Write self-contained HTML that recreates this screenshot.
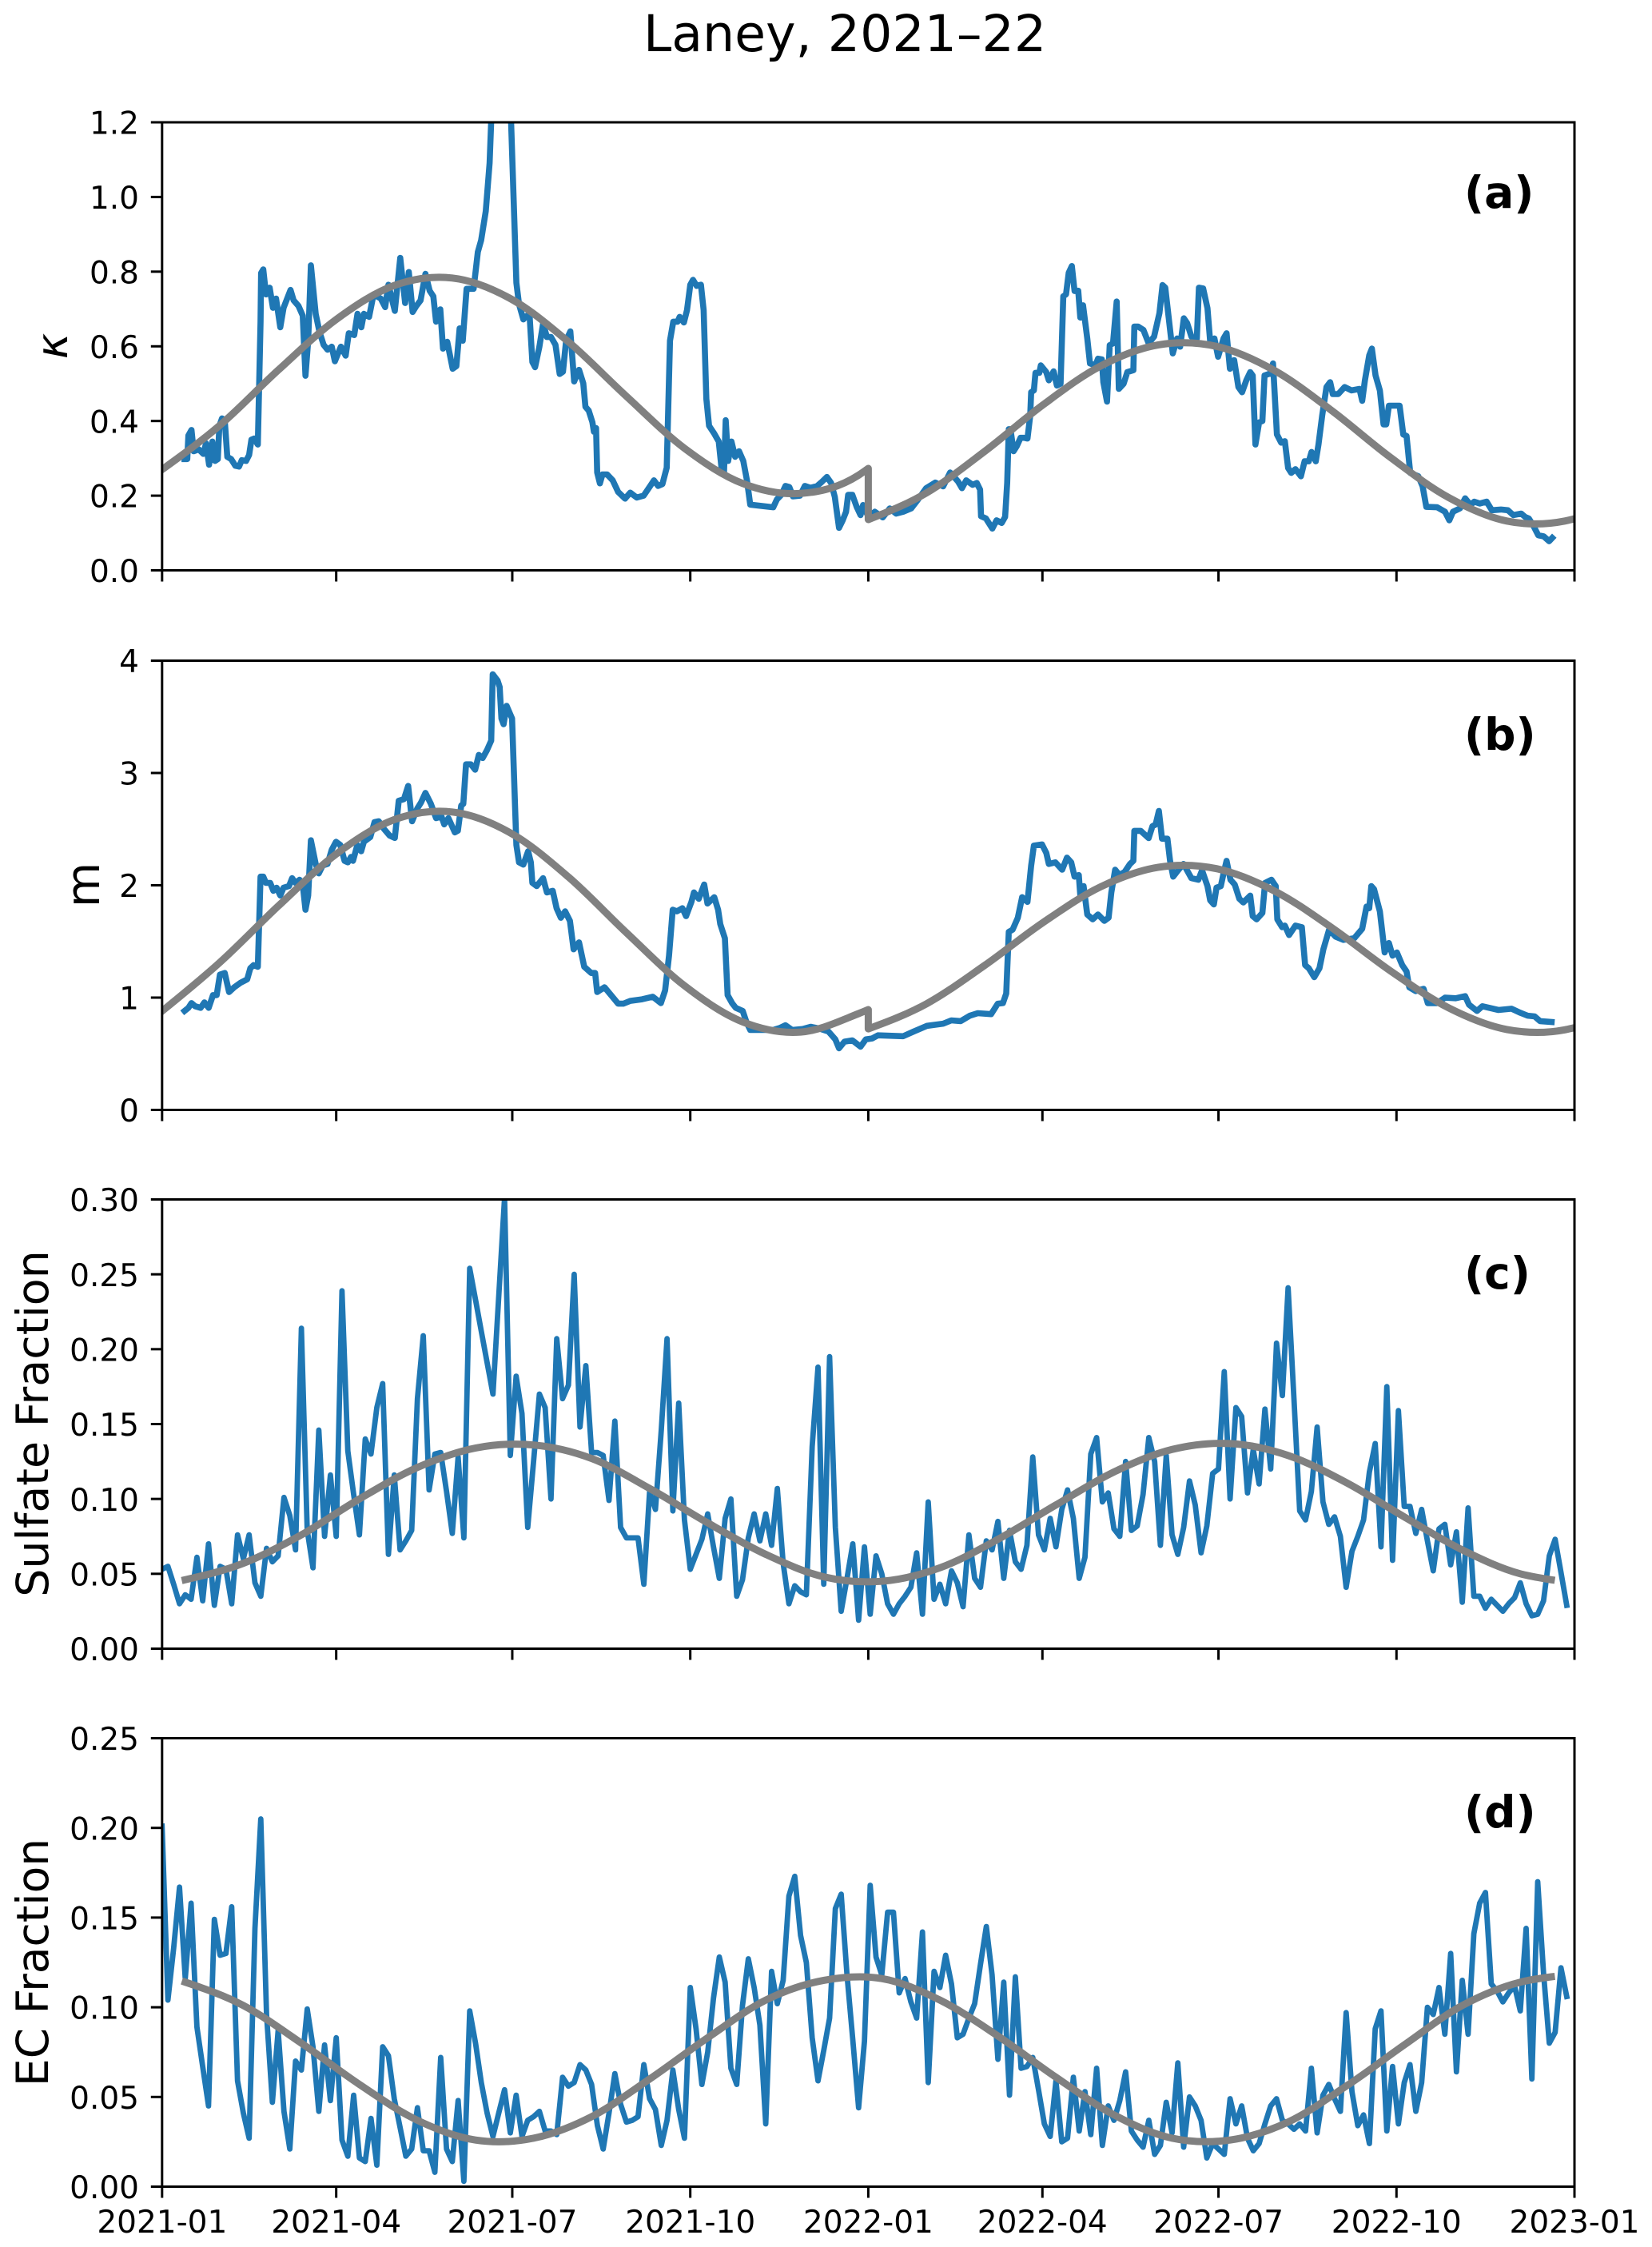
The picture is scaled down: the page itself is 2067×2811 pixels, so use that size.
<!DOCTYPE html>
<html lang="en">
<head>
<meta charset="utf-8">
<title>Laney, 2021–22</title>
<style>
html,body{margin:0;padding:0;background:#fff;}
svg{display:block;}
text{font-family:"DejaVu Sans","Liberation Sans",sans-serif;fill:#000;}
</style>
</head>
<body>
<svg id="figure" xmlns="http://www.w3.org/2000/svg" width="2067" height="2811" viewBox="0 0 2067 2811">
<rect x="0" y="0" width="2067" height="2811" fill="#fff"/>
<text x="805" y="64" font-size="63.3">Laney, 2021–22</text>
<g id="plots"></g>
<text transform="translate(84,433) rotate(-90)" text-anchor="middle" font-size="54.6" font-style="italic">κ</text>
<text transform="translate(124,1107) rotate(-90)" text-anchor="middle" font-size="58">m</text>
<text transform="translate(60,1781) rotate(-90)" text-anchor="middle" font-size="55.4">Sulfate Fraction</text>
<text transform="translate(60,2455) rotate(-90)" text-anchor="middle" font-size="55">EC Fraction</text>
<text x="1832" y="260" font-size="55" font-weight="bold">(a)</text>
<text x="1832" y="938" font-size="55" font-weight="bold">(b)</text>
<text x="1832" y="1612" font-size="55" font-weight="bold">(c)</text>
<text x="1832" y="2286" font-size="55" font-weight="bold">(d)</text>
</svg>
<script>
var xTickLabels = ['2021-01','2021-04','2021-07','2021-10','2022-01','2022-04','2022-07','2022-10','2023-01'];

var kappaTicks = ['0.0','0.2','0.4','0.6','0.8','1.0','1.2'];
var mTicks = ['0','1','2','3','4'];
var sulfateTicks = ['0.00','0.05','0.10','0.15','0.20','0.25','0.30'];
var ecTicks = ['0.00','0.05','0.10','0.15','0.20','0.25'];

var kappaDays = [
11.6,13,13.6,15.2,16.3,19,21.3,22.7,24.3,26,
27.4,28.8,29.6,31,32.4,33.7,35.7,37.9,39.8,41.2,
43.4,45,46.2,47.6,49.5,50.9,51.2,52.3,53.7,55.6,
57.3,58.9,61.1,62.8,66.4,68,70.5,72.7,74.1,75.5,
76.9,79.4,81.3,83.5,85.5,87.7,89.3,92.4,94.9,96.5,
99.3,101,103,104.3,107,109.3,113,115.3,117,120.3,
123.1,125.6,127.5,129.5,131.4,133.6,136.1,138.3,140.2,141.6,
143.8,145.2,147.4,150.2,152.1,153.8,155.4,157.4,161,163.2,
164.9,167.3,169.3,170.9,175,180.4,183.1,184.5,186.7,188.6,
190,191.4,192.8,195,196.9,198.9,201,203.3,205.5,207.2,
208.8,211,213,215.5,217.7,218.8,220.5,222.4,223.2,224.3,
224.9,226.3,227.6,230,232.9,235.7,239.3,242,245.3,248.9,
252.3,254.2,256.4,258.6,260.8,262.5,264.2,266.4,267.5,269.7,
271.3,273,274.4,276.3,278.5,279.9,281.3,282.7,285.4,287.7,
289.3,290.4,291.3,292.6,294.3,296.2,298.2,300.4,302.3,304,
315.9,317.8,320,322.2,324.2,326.1,329.7,332.2,335.2,338.6,
340.8,343.6,345.8,347.7,349.9,351.8,353.5,354.6,356.8,359,
361,362.3,365.1,368.4,372.5,376.1,379.4,383,387.2,390.5,
394.9,399.6,403.7,407.3,411.4,413.4,415.6,418.9,421.1,422.8,
423.3,425.8,429.1,431.3,434,435.7,436.8,437.6,438.5,440.1,
441.8,443.7,445.5,447.3,448.7,449.2,450.6,451.4,453.4,454.2,
457,458.3,460.8,462.5,464.4,465.8,467.2,468.6,470.2,471.6,
473.5,474.6,476,478.2,479.6,482.4,483.7,485.7,486.5,488.4,
489.8,491.5,493.4,494.5,497,498.9,502,502.5,504.4,507.2,
509.9,512.7,515.5,517.1,518.5,520.1,522.4,524.6,526.2,528.1,
529.8,532,534.8,535.9,538.1,540.3,541.7,543.9,545.8,548.6,
550.2,551.9,554.1,556.3,558.2,560.4,562.4,563.7,565.1,567,
568.7,569.8,572.6,574.2,576.2,578.4,580.3,582,583.6,585.8,
588.6,590.5,592.7,594.1,596.3,597.7,599.6,601.8,603.7,605.1,
607.9,611.2,614.8,618.9,620.3,621.7,623.9,625.3,627.2,629.4,
631.3,632.7,634.1,639.6,641.5,643.2,645.1,649.3,651.5,653.4,
659,663.1,665.3,667.2,670.8,673.5,676.3,678.2,681,684.6,
687.3,692,695.6,698.4,702.5,704.5,706.4,708.6,711.3,714.1,
716.9,718.5];

var kappaValues = [
.298,.298,.361,.376,.319,.324,.312,.340,.283,.345,
.293,.298,.387,.407,.402,.304,.298,.280,.278,.295,
.293,.309,.350,.353,.337,.666,.796,.806,.739,.757,
.703,.728,.651,.703,.751,.723,.708,.682,.521,.615,
.817,.687,.640,.604,.591,.599,.560,.599,.575,.635,
.630,.687,.651,.687,.679,.739,.728,.705,.765,.695,
.837,.716,.799,.692,.708,.723,.794,.749,.734,.666,
.699,.594,.612,.540,.547,.648,.615,.754,.754,.853,
.884,.962,1.091,1.31,2.2,1.2,.77,.713,.672,.682,
.677,.558,.544,.599,.661,.625,.625,.604,.526,.532,
.615,.640,.506,.537,.501,.438,.428,.397,.371,.381,
.262,.233,.257,.257,.241,.210,.192,.208,.195,.200,
.226,.241,.226,.231,.275,.615,.666,.666,.679,.664,
.697,.765,.778,.762,.765,.697,.459,.387,.366,.345,
.267,.257,.402,.293,.345,.304,.319,.293,.241,.176,
.169,.190,.202,.226,.223,.198,.200,.226,.221,.226,
.236,.250,.234,.197,.114,.134,.157,.202,.202,.170,
.148,.175,.143,.157,.142,.166,.152,.157,.166,.188,
.220,.235,.225,.262,.238,.220,.241,.229,.234,.216,
.145,.139,.112,.134,.127,.143,.234,.378,.378,.319,
.333,.355,.355,.353,.414,.477,.482,.529,.529,.549,
.531,.509,.533,.495,.500,.734,.739,.797,.815,.748,
.749,.677,.710,.621,.554,.549,.567,.565,.504,.452,
.603,.608,.720,.486,.500,.531,.536,.653,.653,.644,
.608,.626,.689,.764,.757,.684,.581,.621,.599,.675,
.662,.626,.621,.757,.755,.702,.612,.621,.572,.621,
.635,.540,.563,.491,.477,.509,.531,.522,.337,.396,
.400,.522,.527,.554,.364,.342,.346,.274,.261,.271,
.252,.292,.292,.317,.292,.337,.414,.491,.504,.472,
.472,.491,.482,.486,.454,.509,.576,.594,.522,.482,
.391,.391,.441,.441,.364,.360,.261,.252,.225,.170,
.169,.157,.134,.157,.166,.193,.175,.184,.179,.184,
.161,.163,.161,.148,.152,.143,.139,.121,.094,.091,
.078,.087];

var mDays = [
11.6,13.6,15.2,17.1,19.9,21.9,24.1,26.3,28.2,29.9,
32.4,34.6,37.3,40.7,44,45.6,47.3,49.5,50.9,52.3,
53.7,55.9,57.5,59.2,61.1,62.8,65.6,67.2,68.9,71.1,
72.7,74.1,75.5,76.9,79.4,81,83,85.5,87.7,89.9,
92.1,94.3,96,97.6,98.7,100.9,102.9,104.3,107.6,109.8,
112,114.8,117.6,120.3,122.3,125,127.2,129.2,131.9,133.9,
136.1,138.9,141.6,144.4,145.8,148,151.3,152.9,154.6,155.7,
157.1,159.6,161.8,163.7,165.7,167.9,170.1,170.9,173.4,174.5,
175.4,176.5,178.1,180.9,183.1,184.5,186.7,189.2,190.6,191.4,
193.6,196.9,198.9,201.9,203.9,206.1,208.3,210.8,212.7,215.5,
218.2,221.8,223.8,224.9,228.7,235.7,238.4,242,248.1,253.6,
257.8,260,262,263.9,266.1,268.9,270.8,273.6,274.9,277.4,
280.2,281.9,285.4,287.4,288.5,290.9,292.3,294.6,296.5,300.1,
302,304,315.9,319.5,322.2,325.6,331.1,335.2,339.4,344.4,
348,349.9,352.7,356.8,361,363.7,367,370,383,388.5,
395.4,403.7,407.9,412.8,417.5,421.6,428.5,431.9,434.6,436.3,
437.6,439.6,442.3,444.5,447.3,449.2,450.6,454.8,457,458.3,
461.7,465.2,467.7,469.9,471.6,473.8,474.6,476.3,478.2,481,
483.7,487,489.2,490.6,492.6,494.8,497.5,500.3,502,502.5,
505.8,509.9,511.9,513.5,515.2,516.8,519.6,521,522.6,525.1,
527.9,532,535.6,537.5,540.3,541.7,543.6,545,547.2,548.6,
550.2,552.2,554.4,556.8,558.8,562.4,563.7,565.7,568.7,570.1,
573.4,575.6,576.4,578.9,580.3,582.5,585.8,589.1,590.8,592.7,
595.5,598.2,600.2,603.2,606.5,610.6,616.2,620.3,622.5,623.9,
625,626.4,629.4,631.9,634.1,636,638.2,641,643.2,644.6,
647.9,652,654.2,658.9,663.1,668.6,673.5,675.5,679.6,682.4,
690.7,697.5,701.7,705.8,709.4,712.2,718.2];

var mValues = [
.881,.909,.951,.923,.909,.957,.909,1.022,1.022,1.205,
1.219,1.05,1.092,1.134,1.163,1.261,1.289,1.275,2.077,2.077,
2.021,2.021,1.951,1.979,1.909,1.979,1.993,2.063,2.021,2.049,
2.007,1.782,1.909,2.401,2.19,2.106,2.176,2.19,2.317,2.387,
2.359,2.218,2.204,2.252,2.218,2.359,2.303,2.387,2.429,2.562,
2.57,2.5,2.443,2.421,2.753,2.767,2.885,2.57,2.683,2.739,
2.823,2.725,2.598,2.612,2.542,2.598,2.471,2.486,2.711,2.725,
3.077,3.077,3.029,3.161,3.133,3.203,3.288,3.879,3.823,3.766,
3.485,3.434,3.598,3.485,2.359,2.204,2.184,2.303,2.204,2.021,
1.993,2.063,1.937,1.951,1.796,1.711,1.768,1.683,1.43,1.492,
1.275,1.219,1.219,1.05,1.092,.946,.946,.971,.985,1.008,
.951,1.064,1.374,1.782,1.768,1.796,1.725,1.852,1.937,1.88,
2.007,1.838,1.894,1.782,1.655,1.528,1.022,.951,.909,.881,
.783,.712,.712,.732,.754,.712,.72,.74,.726,.698,
.628,.549,.608,.619,.563,.628,.636,.664,.656,.698,
.749,.768,.797,.791,.839,.861,.853,.946,.951,1.036,
1.585,1.605,1.711,1.894,1.852,2.176,2.353,2.364,2.289,2.19,
2.204,2.139,2.246,2.204,2.077,2.091,1.908,1.993,1.74,1.697,
1.74,1.683,1.711,1.936,2.139,2.091,2.119,2.19,2.218,2.485,
2.485,2.42,2.527,2.54,2.662,2.415,2.415,2.218,2.077,2.133,
2.19,2.063,2.049,2.133,1.993,1.866,1.83,1.979,1.993,2.105,
2.218,2.049,2.007,1.88,1.847,1.908,1.725,1.697,1.754,2.021,
2.049,1.993,1.697,1.627,1.641,1.557,1.641,1.627,1.289,1.261,
1.182,1.261,1.43,1.605,1.543,1.514,1.529,1.613,1.81,1.796,
1.993,1.965,1.768,1.402,1.486,1.374,1.402,1.289,1.233,1.092,
1.058,1.078,.951,.951,.999,.994,1.013,.937,.881,.923,
.89,.901,.867,.839,.833,.791,.783];

var sampleIntervalDays = 3;

var sulfateValues = [
.053,.055,.043,.030,.036,.033,.061,.032,.070,.029,
.055,.053,.030,.076,.060,.076,.044,.035,.067,.058,
.062,.101,.089,.066,.214,.079,.054,.146,.075,.116,
.075,.239,.132,.103,.076,.140,.130,.161,.177,.063,
.116,.066,.072,.079,.167,.209,.106,.130,.131,.105,
.077,.128,.074,.254,.233,.212,.191,.170,.235,.301,
.129,.182,.157,.081,.125,.170,.161,.100,.207,.167,
.176,.250,.148,.189,.131,.131,.129,.099,.152,.081,
.074,.074,.074,.043,.105,.093,.146,.207,.092,.164,
.086,.053,.063,.073,.090,.068,.047,.087,.100,.035,
.046,.074,.090,.072,.090,.069,.107,.057,.030,.042,
.038,.036,.135,.188,.043,.195,.081,.025,.047,.070,
.019,.068,.023,.062,.050,.030,.023,.030,.035,.041,
.064,.023,.098,.033,.043,.030,.052,.044,.028,.076,
.047,.041,.072,.066,.085,.047,.079,.058,.053,.069,
.128,.076,.066,.087,.068,.093,.106,.087,.047,.061,
.130,.141,.098,.104,.080,.075,.125,.079,.082,.103,
.141,.125,.069,.129,.076,.063,.081,.112,.096,.064,
.082,.117,.120,.185,.100,.161,.155,.104,.133,.110,
.160,.120,.204,.169,.241,.167,.092,.086,.105,.148,
.098,.083,.088,.075,.041,.065,.075,.086,.118,.137,
.068,.175,.059,.159,.095,.095,.077,.093,.072,.052,
.080,.083,.056,.078,.031,.094,.035,.035,.027,.033,
.029,.025,.030,.034,.044,.030,.022,.023,.032,.062,
.073,.051,.029];

var ecValues = [
.201,.104,.133,.167,.116,.158,.089,.067,.045,.149,
.129,.130,.156,.059,.041,.027,.144,.205,.096,.047,
.087,.042,.021,.070,.065,.099,.078,.042,.079,.048,
.083,.026,.017,.051,.016,.014,.038,.012,.078,.073,
.049,.033,.017,.021,.044,.020,.020,.008,.072,.021,
.014,.048,.003,.098,.080,.058,.041,.028,.041,.054,
.030,.051,.028,.037,.039,.042,.031,.031,.029,.061,
.056,.058,.068,.065,.057,.034,.021,.041,.063,.046,
.036,.037,.039,.068,.049,.043,.023,.037,.065,.043,
.027,.111,.088,.057,.075,.105,.128,.114,.066,.057,
.101,.127,.111,.090,.035,.120,.102,.115,.162,.173,
.140,.125,.083,.059,.076,.094,.155,.163,.118,.082,
.044,.081,.168,.128,.118,.153,.153,.108,.116,.103,
.094,.142,.058,.120,.111,.129,.113,.083,.085,.094,
.102,.124,.145,.118,.071,.114,.051,.117,.066,.067,
.072,.054,.035,.028,.059,.025,.027,.061,.031,.053,
.029,.066,.023,.045,.037,.048,.064,.031,.026,.022,
.037,.018,.023,.047,.030,.069,.022,.050,.045,.037,
.016,.024,.021,.018,.049,.035,.045,.027,.020,.024,
.035,.045,.049,.037,.035,.032,.035,.031,.066,.030,
.051,.057,.049,.042,.097,.053,.034,.040,.024,.088,
.098,.031,.067,.035,.058,.068,.042,.058,.100,.096,
.111,.085,.130,.064,.115,.085,.141,.158,.164,.113,
.109,.103,.108,.112,.098,.144,.060,.170,.119,.080,
.086,.122,.106];

var kappaFitDays2021 = [0,30,60,90,120,150,180,210,240,270,300,330,360,365];
var kappaFit2021 = [.270,.389,.536,.672,.763,.783,.728,.612,.466,.327,.233,.206,.255,.273];
var kappaFitDays2022 = [365,395,425,455,485,515,545,575,605,635,665,695,725,730];
var kappaFit2022 = [.136,.207,.318,.442,.547,.604,.600,.535,.426,.302,.195,.132,.132,.138];

var mFitDays2021 = [0,30,60,90,120,150,180,210,240,270,300,330,360,365];
var mFit2021 = [.88,1.315,1.814,2.278,2.584,2.653,2.467,2.074,1.578,1.106,.784,.693,.858,.893];
var mFitDays2022 = [365,395,425,455,485,515,545,575,605,635,665,695,725,730];
var mFit2022 = [.722,.944,1.285,1.665,1.986,2.161,2.148,1.949,1.617,1.236,.908,.716,.713,.732];

var fractionFitDays = [12,42,72,102,132,162,192,222,252,282,312,342,372,402,432,462,492,522,552,582,612,642,672,702,718];
var sulfateFit = [.046,.057,.076,.100,.121,.134,.136,.127,.107,.084,.063,.048,.045,.054,.073,.096,.118,.133,.137,.129,.111,.088,.066,.050,.046];
var ecFit = [.114,.101,.080,.057,.037,.026,.027,.039,.060,.083,.104,.115,.116,.104,.084,.061,.040,.027,.026,.036,.056,.079,.101,.114,.117];

var SVGNS = 'http://www.w3.org/2000/svg';
var plotLeft = 202.8, plotRight = 1970, spanDays = 730;
var plots = document.getElementById('plots');

function xScale(day) {
  return plotLeft + day * (plotRight - plotLeft) / spanDays;
}
function makeYScale(top, bottom, maxValue) {
  return function (v) { return bottom - v / maxValue * (bottom - top); };
}
function dayOfLabel(label) {
  var parts = label.split('-');
  return (Date.UTC(+parts[0], +parts[1] - 1, 1) - Date.UTC(2021, 0, 1)) / 86400000;
}
function svgEl(tag, parent) {
  var el = document.createElementNS(SVGNS, tag);
  parent.appendChild(el);
  return el;
}
function polyPath(days, values, y) {
  var d = '';
  for (var i = 0; i < days.length && i < values.length; i++) {
    d += (i ? 'L' : 'M') + xScale(days[i]).toFixed(1) + ' ' + y(values[i]).toFixed(1);
  }
  return d;
}
function smoothPath(days, values, y, connect) {
  var px = days.map(xScale);
  var py = values.map(y);
  var n = px.length;
  var h = [], s = [], m = [], i;
  for (i = 0; i < n - 1; i++) {
    h.push(px[i + 1] - px[i]);
    s.push((py[i + 1] - py[i]) / h[i]);
  }
  for (i = 1; i < n - 1; i++) {
    m[i] = (h[i] * s[i - 1] + h[i - 1] * s[i]) / (h[i - 1] + h[i]);
  }
  m[0] = (3 * s[0] - m[1]) / 2;
  m[n - 1] = (3 * s[n - 2] - m[n - 2]) / 2;
  var d = (connect ? 'L' : 'M') + px[0].toFixed(1) + ' ' + py[0].toFixed(1);
  for (i = 0; i < n - 1; i++) {
    d += 'C' + (px[i] + h[i] / 3).toFixed(1) + ' ' + (py[i] + m[i] * h[i] / 3).toFixed(1) + ' ' +
         (px[i + 1] - h[i] / 3).toFixed(1) + ' ' + (py[i + 1] - m[i + 1] * h[i] / 3).toFixed(1) + ' ' +
         px[i + 1].toFixed(1) + ' ' + py[i + 1].toFixed(1);
  }
  return d;
}
function sampleDays(values) {
  return values.map(function (_, i) { return i * sampleIntervalDays; });
}
function drawSeries(group, d, width) {
  var p = svgEl('path', group);
  
  
  p.setAttribute('d', d);
  p.setAttribute('fill', 'none');
  p.setAttribute('stroke', '#1f77b4');
  p.setAttribute('stroke-width', width);
  p.setAttribute('stroke-linejoin', 'round');
  p.setAttribute('stroke-linecap', 'square');
}
function drawFit(group, d) {
  var p = svgEl('path', group);
  
  
  p.setAttribute('d', d);
  p.setAttribute('fill', 'none');
  p.setAttribute('stroke', '#808080');
  p.setAttribute('stroke-width', '9');
  p.setAttribute('stroke-linejoin', 'round');
  p.setAttribute('stroke-linecap', 'square');
}
function tickLine(group, x1, y1, x2, y2) {
  var t = svgEl('line', group);
  
  
  t.setAttribute('x1', x1);
  t.setAttribute('y1', y1);
  t.setAttribute('x2', x2);
  t.setAttribute('y2', y2);
  t.setAttribute('stroke', '#000');
  t.setAttribute('stroke-width', '3');
}

function drawPanel(idx, top, bottom, maxValue, yTicks, showXLabels, series, fits, lineWidth) {
  var y = makeYScale(top, bottom, maxValue);
  var g = svgEl('g', plots);
  
  

  var defs = svgEl('defs', g);
  var clip = svgEl('clipPath', defs);
  clip.setAttribute('id', 'clip' + idx);
  var cr = svgEl('rect', clip);
  cr.setAttribute('x', plotLeft);
  cr.setAttribute('y', top);
  cr.setAttribute('width', plotRight - plotLeft);
  cr.setAttribute('height', bottom - top);

  var marks = svgEl('g', g);
  
  
  marks.setAttribute('clip-path', 'url(#clip' + idx + ')');
  drawSeries(marks, polyPath(series[0], series[1], y), lineWidth);
  var fitPath = '';
  fits.forEach(function (f, k) { fitPath += smoothPath(f[0], f[1], y, k > 0); });
  drawFit(marks, fitPath);

  yTicks.forEach(function (label) {
    var py = y(parseFloat(label));
    tickLine(g, 188.8, py, plotLeft, py);
    var t = svgEl('text', g);
    
    
    t.setAttribute('x', 174);
    t.setAttribute('y', py + 14.6);
    t.setAttribute('text-anchor', 'end');
    t.setAttribute('font-size', '39');
    t.textContent = label;
  });

  xTickLabels.forEach(function (label) {
    var px = xScale(dayOfLabel(label));
    tickLine(g, px, bottom, px, bottom + 14);
    if (showXLabels) {
      var t = svgEl('text', g);
      
      
      t.setAttribute('x', px);
      t.setAttribute('y', 2793);
      t.setAttribute('text-anchor', 'middle');
      t.setAttribute('font-size', '39');
      t.textContent = label;
    }
  });

  var frame = svgEl('rect', g);
  
  
  frame.setAttribute('x', plotLeft);
  frame.setAttribute('y', top);
  frame.setAttribute('width', plotRight - plotLeft);
  frame.setAttribute('height', bottom - top);
  frame.setAttribute('fill', 'none');
  frame.setAttribute('stroke', '#000');
  frame.setAttribute('stroke-width', '3');
}

drawPanel(0, 153, 713.5, 1.2, kappaTicks, false, [kappaDays, kappaValues],
  [[kappaFitDays2021, kappaFit2021], [kappaFitDays2022, kappaFit2022]], 7.6);
drawPanel(1, 826.5, 1388.5, 4, mTicks, false, [mDays, mValues],
  [[mFitDays2021, mFit2021], [mFitDays2022, mFit2022]], 7.6);
drawPanel(2, 1500.5, 2062.5, 0.30, sulfateTicks, false, [sampleDays(sulfateValues), sulfateValues],
  [[fractionFitDays, sulfateFit]], 6.8);
drawPanel(3, 2174.5, 2735.5, 0.25, ecTicks, true, [sampleDays(ecValues), ecValues],
  [[fractionFitDays, ecFit]], 6.8);
</script>
</body>
</html>
